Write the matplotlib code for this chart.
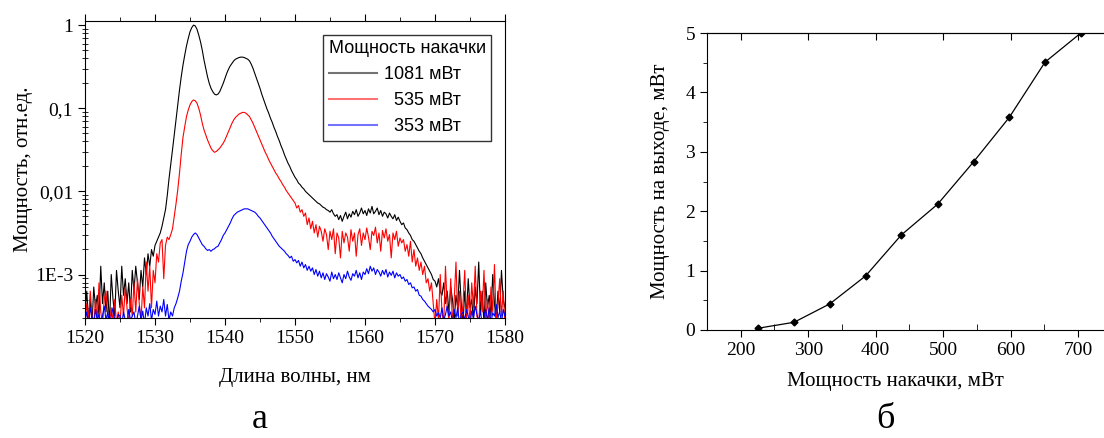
import numpy as np
import matplotlib
matplotlib.use('Agg')
import matplotlib.pyplot as plt
from matplotlib.ticker import FixedLocator, FixedFormatter, MultipleLocator, NullFormatter
from matplotlib.lines import Line2D

plt.rcParams['font.family'] = ['Liberation Serif', 'DejaVu Serif']
plt.rcParams['font.size'] = 14

# --- spectra (а): wavelength grid 0.25 nm, values read as log10(relative power)
wl = np.arange(1520, 1580.01, 0.25)

lg_1081 = [
    -3.45, -3.2, -3.55, -3.3, -3.6, -3.15, -3.4, -3.25, -3.5, -2.9, -3.35, -3.1,
    -3.45, -3.2, -3.6, -3.0, -3.3, -3.5, -2.95, -3.2, -3.4, -2.9, -3.25, -3.05,
    -3.35, -3.1, -3.45, -2.95, -3.2, -2.9, -3.1, -3.3, -2.95, -3.15, -2.8, -3.0,
    -2.75, -2.9, -2.7, -2.78, -2.65, -2.6, -2.55, -2.5, -2.42, -2.32, -2.22, -2.05,
    -1.85, -1.68, -1.5, -1.32, -1.13, -0.95, -0.78, -0.62, -0.48, -0.36, -0.25, -0.16,
    -0.08, -0.03, 0.0, -0.01, -0.05, -0.12, -0.2, -0.3, -0.42, -0.52, -0.62, -0.7,
    -0.76, -0.8, -0.83, -0.84, -0.83, -0.8, -0.75, -0.7, -0.64, -0.58, -0.53, -0.49,
    -0.46, -0.43, -0.41, -0.4, -0.39, -0.385, -0.385, -0.39, -0.4, -0.41, -0.43, -0.47,
    -0.52, -0.58, -0.64, -0.7, -0.76, -0.83, -0.89, -0.95, -1.01, -1.06, -1.12, -1.17,
    -1.23, -1.28, -1.34, -1.39, -1.45, -1.5, -1.56, -1.61, -1.66, -1.7, -1.75, -1.79,
    -1.83, -1.86, -1.9, -1.92, -1.95, -1.97, -2.0, -2.02, -2.04, -2.06, -2.08, -2.1,
    -2.12, -2.14, -2.15, -2.17, -2.19, -2.2, -2.22, -2.23, -2.25, -2.22, -2.27, -2.3,
    -2.28, -2.34, -2.29, -2.36, -2.3, -2.25, -2.33, -2.27, -2.31, -2.24, -2.28, -2.22,
    -2.3, -2.26, -2.2, -2.27, -2.23, -2.29, -2.21, -2.26, -2.18, -2.27, -2.24, -2.2,
    -2.28, -2.23, -2.3, -2.25, -2.27, -2.32, -2.26, -2.3, -2.33, -2.28, -2.35, -2.31,
    -2.36, -2.4, -2.38, -2.44, -2.46, -2.5, -2.53, -2.58, -2.6, -2.64, -2.68, -2.72,
    -2.75, -2.8, -2.84, -2.88, -2.92, -2.96, -3.0, -3.06, -3.08, -3.15, -3.05, -3.2,
    -3.25, -3.1, -3.35, -3.2, -3.45, -3.15, -3.3, -3.55, -3.25, -3.4, -2.95, -3.35,
    -3.6, -3.2, -3.5, -3.05, -3.4, -3.3, -3.55, -3.15, -3.35, -2.85, -3.45, -3.2,
    -3.6, -3.1, -3.4, -3.25, -3.5, -3.0, -3.35, -3.55, -3.2, -3.45, -2.95, -3.3,
    -3.4,
]

lg_535 = [
    -3.6, -3.35, -3.55, -3.2, -3.5, -3.6, -3.3, -3.55, -3.1, -3.45, -3.6, -3.3,
    -3.2, -3.5, -3.6, -3.4, -3.55, -3.3, -3.6, -3.45, -3.6, -3.25, -3.5, -3.15,
    -3.4, -3.6, -3.3, -3.5, -3.1, -3.45, -3.05, -3.35, -3.55, -3.15, -3.4, -2.85,
    -3.2, -2.9, -3.4, -2.95, -3.1, -2.75, -2.85, -2.62, -2.58, -3.05, -2.65, -2.55,
    -2.58, -2.52, -2.45, -2.3, -2.15, -1.98, -1.78, -1.55, -1.35, -1.22, -1.1, -1.02,
    -0.96, -0.92, -0.9, -0.91, -0.94, -1.0, -1.08, -1.18, -1.26, -1.32, -1.38, -1.43,
    -1.48, -1.51, -1.53, -1.52, -1.5, -1.48, -1.45, -1.42, -1.38, -1.33, -1.28, -1.23,
    -1.18, -1.14, -1.11, -1.09, -1.07, -1.06, -1.05, -1.05, -1.06, -1.08, -1.1, -1.14,
    -1.18, -1.23, -1.28, -1.33, -1.38, -1.43, -1.48, -1.53, -1.57, -1.62, -1.66, -1.7,
    -1.74, -1.78, -1.81, -1.85, -1.88, -1.92, -1.95, -1.99, -2.02, -2.05, -2.08, -2.11,
    -2.14, -2.2, -2.17, -2.25, -2.22, -2.3, -2.26, -2.4, -2.32, -2.45, -2.36, -2.5,
    -2.4, -2.55, -2.42, -2.48, -2.6, -2.45, -2.52, -2.7, -2.48, -2.58, -2.45, -2.75,
    -2.5, -2.56, -2.8, -2.48, -2.62, -2.5, -2.55, -2.72, -2.46, -2.6, -2.5, -2.78,
    -2.52, -2.45, -2.65, -2.5, -2.58, -2.44, -2.55, -2.7, -2.48, -2.53, -2.43, -2.62,
    -2.5, -2.72, -2.47, -2.56, -2.45, -2.6, -2.52, -2.8, -2.5, -2.58, -2.48, -2.66,
    -2.56, -2.62, -2.58, -2.72, -2.64, -2.78, -2.6, -2.85, -2.7, -2.9, -2.8, -2.95,
    -2.85, -3.0, -2.9, -3.1, -3.05, -3.2, -3.1, -3.35, -3.6, -3.3, -3.55, -3.0,
    -3.45, -3.6, -2.9, -3.4, -3.55, -3.05, -3.6, -3.3, -2.85, -3.5, -3.2, -3.6,
    -3.35, -2.95, -3.55, -3.25, -3.6, -3.1, -3.4, -2.9, -3.5, -3.6, -3.2, -3.45,
    -2.95, -3.55, -3.3, -3.6, -3.15, -3.45, -2.88, -3.6, -3.35, -3.05, -3.5, -3.2,
    -3.6,
]

lg_353 = [
    -3.55, -3.45, -3.6, -3.4, -3.5, -3.6, -3.42, -3.55, -3.48, -3.6, -3.5, -3.38,
    -3.55, -3.45, -3.6, -3.5, -3.4, -3.55, -3.6, -3.48, -3.5, -3.6, -3.45, -3.55,
    -3.6, -3.42, -3.55, -3.5, -3.45, -3.6, -3.5, -3.38, -3.55, -3.44, -3.6, -3.4,
    -3.5, -3.35, -3.55, -3.42, -3.48, -3.32, -3.5, -3.38, -3.45, -3.3, -3.5, -3.36,
    -3.55, -3.45, -3.5, -3.4, -3.35, -3.28, -3.2, -3.08, -2.98, -2.85, -2.72, -2.64,
    -2.6, -2.55, -2.52, -2.5, -2.52, -2.56, -2.6, -2.64, -2.66, -2.69, -2.71, -2.7,
    -2.72, -2.7, -2.69, -2.67, -2.66, -2.62, -2.58, -2.53, -2.5, -2.46, -2.42, -2.38,
    -2.33, -2.29, -2.27, -2.25, -2.24, -2.23, -2.22, -2.21, -2.21, -2.21, -2.22, -2.23,
    -2.24, -2.25, -2.27, -2.3, -2.32, -2.35, -2.38, -2.41, -2.44, -2.47, -2.5, -2.54,
    -2.57, -2.6, -2.63, -2.66, -2.68, -2.7, -2.72, -2.75, -2.77, -2.8, -2.78, -2.84,
    -2.82, -2.86, -2.83, -2.9, -2.85, -2.92, -2.88, -2.95, -2.9, -2.96, -2.92, -3.0,
    -2.94, -3.02, -2.96, -3.04, -2.98, -3.06, -2.99, -3.03, -3.08, -2.97, -3.05, -3.0,
    -3.06, -2.98, -3.04, -3.1, -3.0, -3.05, -2.96, -3.03, -3.07, -2.99, -3.02, -2.95,
    -3.04, -2.98, -3.06, -2.97, -3.0, -2.93, -2.99, -2.9, -2.96, -2.92, -3.0, -2.94,
    -2.97, -3.02, -2.95, -3.0, -2.94, -3.03, -2.97, -3.01, -2.96, -3.04, -2.98, -3.02,
    -3.0, -3.05, -3.03, -3.08, -3.06, -3.12, -3.1, -3.16, -3.15, -3.2, -3.18, -3.25,
    -3.26, -3.3, -3.32, -3.35, -3.38, -3.4, -3.42, -3.45, -3.42, -3.5, -3.46, -3.52,
    -3.4, -3.55, -3.48, -3.38, -3.5, -3.45, -3.58, -3.42, -3.52, -3.4, -3.6, -3.48,
    -3.45, -3.55, -3.42, -3.5, -3.6, -3.44, -3.52, -3.38, -3.48, -3.56, -3.44, -3.6,
    -3.5, -3.42, -3.55, -3.4, -3.58, -3.46, -3.5, -3.36, -3.52, -3.44, -3.58, -3.42,
    -3.5,
]

labels = ['1081 мВт', '  535 мВт', '  353 мВт']
colors = ['black', 'red', 'blue']

# --- output power vs pump power (б)
pump = [226, 279, 332, 385, 438, 492, 545, 598, 651, 704]
p_out = [0.03, 0.13, 0.44, 0.91, 1.60, 2.12, 2.83, 3.58, 4.51, 5.0]

fig = plt.figure(figsize=(11.04, 4.38), dpi=100)

# ---------------- left panel
ax1 = fig.add_axes([0.077, 0.274, 0.3804, 0.678])
for lg, c in zip([lg_1081, lg_535, lg_353], colors):
    ax1.plot(wl, 10 ** np.array(lg), color=c, lw=0.8)
ax1.set_yscale('log')
ax1.set_xlim(1520, 1580)
ax1.set_ylim(3.0e-4, 1.12)
ax1.xaxis.set_major_locator(MultipleLocator(10))
ax1.xaxis.set_minor_locator(MultipleLocator(5))
ax1.yaxis.set_major_locator(FixedLocator([1e-3, 1e-2, 1e-1, 1]))
ax1.yaxis.set_major_formatter(FixedFormatter(['1E-3', '0,01', '0,1', '1']))
ax1.yaxis.set_minor_formatter(NullFormatter())
ax1.tick_params(axis='x', which='both', direction='out', top=True, labelsize=14)
ax1.tick_params(axis='x', which='major', length=5)
ax1.tick_params(axis='x', which='minor', length=3)
ax1.tick_params(axis='y', which='major', direction='out', length=5, labelsize=14)
ax1.tick_params(axis='y', which='minor', direction='inout', length=4)
ax1.set_xlabel('Длина волны, нм', fontsize=15)
ax1.set_ylabel('Мощность, отн.ед.', fontsize=15)
ax1.xaxis.set_label_coords(0.5, -0.17)
ax1.yaxis.set_label_coords(-0.125, 0.5)

handles = [Line2D([], [], color=c, lw=1.5, alpha=0.55) for c in colors]
leg = ax1.legend(handles, labels, title='Мощность накачки', loc='upper right',
                 bbox_to_anchor=(0.967, 0.953), frameon=True, fancybox=False,
                 framealpha=1, edgecolor='#333333', handlelength=2.7,
                 handletextpad=0.35, labelspacing=0.5, borderpad=0.3,
                 borderaxespad=0, alignment='left',
                 prop={'family': 'Liberation Sans', 'size': 13},
                 title_fontproperties={'family': 'Liberation Sans', 'size': 13})
leg.get_frame().set_linewidth(1.0)

# ---------------- right panel
ax2 = fig.add_axes([0.6404, 0.2466, 0.3667, 0.678])
ax2.plot(pump, p_out, color='black', lw=0.9, marker='D', ms=3.5)
ax2.set_xlim(150, 750)
ax2.set_ylim(0, 5)
ax2.spines['right'].set_visible(False)
ax2.xaxis.set_major_locator(MultipleLocator(100))
ax2.xaxis.set_minor_locator(MultipleLocator(50))
ax2.yaxis.set_major_locator(MultipleLocator(1))
ax2.yaxis.set_minor_locator(MultipleLocator(0.5))
ax2.tick_params(axis='x', which='major', direction='out', length=5, labelsize=14)
ax2.tick_params(axis='x', which='minor', direction='in', length=4)
ax2.tick_params(axis='y', which='major', direction='out', length=5, labelsize=14)
ax2.tick_params(axis='y', which='minor', direction='out', length=3)
top2 = ax2.secondary_xaxis('top')
top2.xaxis.set_major_locator(MultipleLocator(100))
top2.tick_params(direction='in', length=5, labeltop=False)
ax2.set_xlabel('Мощность накачки, мВт', fontsize=15)
ax2.set_ylabel('Мощность на выходе, мВт', fontsize=15)
ax2.xaxis.set_label_coords(0.465, -0.14)
ax2.yaxis.set_label_coords(-0.092, 0.5)

fig.text(260 / 1104, 1 - 420 / 438, 'а', ha='center', va='center', fontsize=26)
fig.text(885 / 1104, 1 - 420 / 438, 'б', ha='center', va='center', fontsize=26)

fig.savefig('out.png', dpi=100)
